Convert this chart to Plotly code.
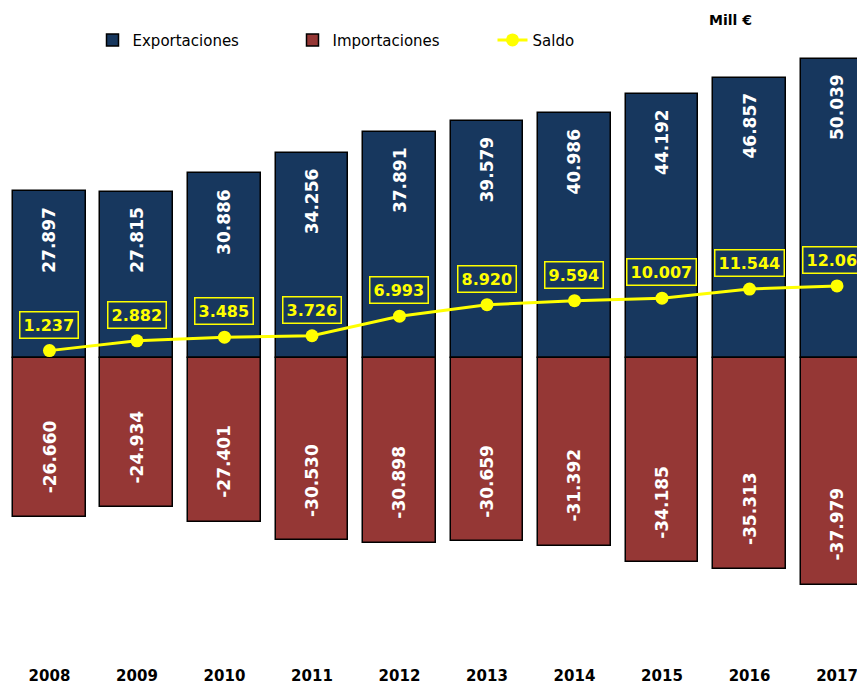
import plotly.graph_objects as go

years = ["2008", "2009", "2010", "2011", "2012", "2013", "2014", "2015", "2016", "2017"]
exportaciones = [27.897, 27.815, 30.886, 34.256, 37.891, 39.579, 40.986, 44.192, 46.857, 50.039]
importaciones = [-26.660, -24.934, -27.401, -30.530, -30.898, -30.659, -31.392, -34.185, -35.313, -37.979]
saldo = [1.237, 2.882, 3.485, 3.726, 6.993, 8.920, 9.594, 10.007, 11.544, 12.061]


def es(v):
    # Spanish formatting: '.' as thousands separator (values in miles de millones)
    return f"{v:.3f}"


BLUE = "#17375E"
RED = "#953735"
YEL = "#FFFF00"
FONT = "DejaVu Sans"

fig = go.Figure()
fig.add_trace(go.Bar(
    x=years, y=exportaciones, name="Exportaciones",
    marker=dict(color=BLUE, line=dict(color="#000000", width=1.5)),
    width=0.834,
))
fig.add_trace(go.Bar(
    x=years, y=importaciones, name="Importaciones",
    marker=dict(color=RED, line=dict(color="#000000", width=1.5)),
    width=0.834,
))
fig.add_trace(go.Scatter(
    x=years, y=saldo, name="Saldo", mode="lines+markers",
    line=dict(color=YEL, width=3),
    marker=dict(color=YEL, size=13),
))

annotations = []
for i, v in enumerate(exportaciones):
    annotations.append(dict(
        x=i, y=v, xref="x", yref="y", text=es(v), showarrow=False,
        textangle=-90, yanchor="top", xanchor="center", yshift=-13,
        font=dict(family=FONT, size=17, color="#FFFFFF", weight="bold"),
    ))
for i, v in enumerate(importaciones):
    annotations.append(dict(
        x=i, y=v, xref="x", yref="y", text=es(v), showarrow=False,
        textangle=-90, yanchor="bottom", xanchor="center", yshift=22,
        font=dict(family=FONT, size=17, color="#FFFFFF", weight="bold"),
    ))
for i, v in enumerate(saldo):
    annotations.append(dict(
        x=i, y=v, xref="x", yref="y", text=es(v), showarrow=False,
        yanchor="middle", xanchor="center", yshift=26,
        bordercolor=YEL, borderwidth=1.5, borderpad=3,
        font=dict(family=FONT, size=16, color=YEL, weight="bold"),
    ))
annotations.append(dict(
    x=0.8425, y=0.982, xref="paper", yref="paper", text="Mill €",
    showarrow=False, xanchor="center", yanchor="middle",
    font=dict(family=FONT, size=14, color="#000000", weight="bold"),
))

fig.update_layout(
    width=857, height=676,
    margin=dict(l=0, r=0, t=0, b=19),
    paper_bgcolor="#FFFFFF", plot_bgcolor="#FFFFFF",
    barmode="relative", bargap=0,
    showlegend=True,
    legend=dict(
        orientation="h", x=0.0986, y=0.951, xanchor="left", yanchor="middle",
        entrywidth=155, entrywidthmode="pixels",
        font=dict(family=FONT, size=15, color="#000000"),
        bgcolor="rgba(0,0,0,0)",
    ),
    xaxis=dict(
        type="category", automargin=False,
        range=[-0.474, 9.320], showgrid=False, zeroline=False, showline=False,
        ticks="", tickfont=dict(family=FONT, size=15, color="#000000", weight="bold"),
        fixedrange=True,
    ),
    yaxis=dict(
        automargin=False,
        range=[-51.37, 58.57], showgrid=False, zeroline=False, showline=False,
        showticklabels=False, ticks="", fixedrange=True,
    ),
    annotations=annotations,
    font=dict(family=FONT),
)

fig.write_html("out.html")
